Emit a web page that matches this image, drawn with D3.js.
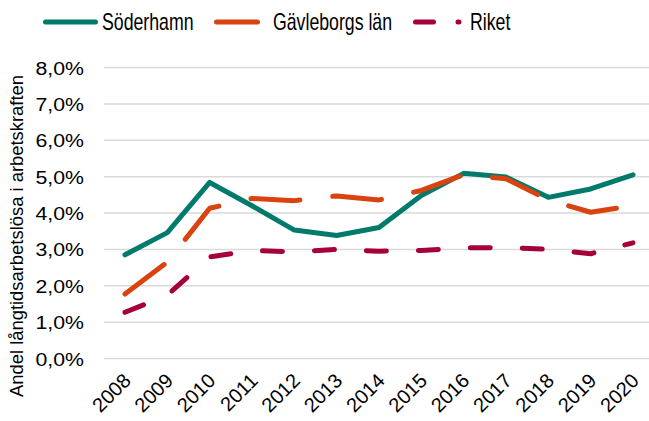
<!DOCTYPE html>
<meta charset="utf-8">
<style>
  body { margin: 0; background: #fff; }
  text { font-family: "Liberation Sans", Arial, sans-serif; fill: #000; }
</style>
<svg id="chart" width="649" height="421"></svg>
<script src="https://cdn.jsdelivr.net/npm/d3@7"></script>
<script>

// data
var years = ["2008","2009","2010","2011","2012","2013","2014","2015","2016","2017","2018","2019","2020"];
var soderhamn = [2.85, 3.46, 4.84, 4.2, 3.53, 3.38, 3.6, 4.48, 5.09, 4.99, 4.43, 4.66, 5.05];
var gavleborg = [1.77, 2.65, 4.13, 4.4, 4.34, 4.47, 4.36, 4.62, 5.05, 4.94, 4.36, 4.02, 4.2];
var riket     = [1.27, 1.74, 2.79, 2.97, 2.93, 3.0, 2.95, 2.97, 3.04, 3.05, 3.0, 2.88, 3.18];
var yTicks = [0, 1, 2, 3, 4, 5, 6, 7, 8];

var series = [
    {name: "Söderhamn", values: soderhamn, color: "#007a6b", dash: null},
    {name: "Gävleborgs län", values: gavleborg, color: "#d8430f", dash: "49,33"},
    {name: "Riket", values: riket, color: "#a5003c", dash: "20,32"}
];

var svg = d3.select("#chart");

var x = d3.scalePoint().domain(years).range([125, 633]);
var y = d3.scaleLinear().domain([0, 8]).range([358.5, 67.5]);

// gridlines
svg.append("g").selectAll("line")
    .data(yTicks)
    .join("line")
    .attr("x1", 104).attr("x2", 649)
    .attr("y1", function(d) { return y(d); })
    .attr("y2", function(d) { return y(d); })
    .attr("stroke", "#d9d9d9")
    .attr("stroke-width", 1.5);

// y tick labels
svg.append("g").selectAll("text")
    .data(yTicks)
    .join("text")
    .attr("text-anchor", "end")
    .attr("transform", function(d) { return "translate(84," + (y(d) + 7) + ") scale(1.12,1)"; })
    .style("font-size", "19px")
    .text(function(d) { return d.toFixed(1).replace(".", ",") + "%"; });

// x tick labels
svg.append("g").selectAll("text")
    .data(years)
    .join("text")
    .attr("text-anchor", "end")
    .attr("transform", function(d) { return "translate(" + (x(d) + 7) + ",382) rotate(-45)"; })
    .style("font-size", "20px")
    .text(function(d) { return d; });

// y axis title
svg.append("text")
    .attr("text-anchor", "middle")
    .attr("transform", "translate(23,236) rotate(-90)")
    .style("font-size", "18.4px")
    .text("Andel långtidsarbetslösa i arbetskraften");

var line = d3.line()
    .x(function(d, i) { return x(years[i]); })
    .y(function(d) { return y(d); });

svg.append("g").selectAll("path")
    .data(series)
    .join("path")
    .attr("d", function(s) { return line(s.values); })
    .attr("fill", "none")
    .attr("stroke", function(s) { return s.color; })
    .attr("stroke-width", 5)
    .attr("stroke-linecap", "round")
    .attr("stroke-linejoin", "round")
    .attr("stroke-dasharray", function(s) { return s.dash; });

// legend
var legend = svg.append("g");
function legendText(xPos, label) {
    legend.append("text")
        .attr("transform", "translate(" + xPos + ",30) scale(0.77,1)")
        .style("font-size", "23px")
        .text(label);
}
legend.append("line").attr("x1", 45.5).attr("x2", 95.5).attr("y1", 22).attr("y2", 22)
    .attr("stroke", series[0].color).attr("stroke-width", 5).attr("stroke-linecap", "round");
legendText(102, series[0].name);

legend.append("line").attr("x1", 216.5).attr("x2", 257.5).attr("y1", 22).attr("y2", 22)
    .attr("stroke", series[1].color).attr("stroke-width", 5).attr("stroke-linecap", "round");
legendText(273, series[1].name);

legend.append("line").attr("x1", 415.5).attr("x2", 459).attr("y1", 22).attr("y2", 22)
    .attr("stroke", series[2].color).attr("stroke-width", 5).attr("stroke-linecap", "round")
    .attr("stroke-dasharray", "18,24.5");
legendText(470, series[2].name);

</script>
